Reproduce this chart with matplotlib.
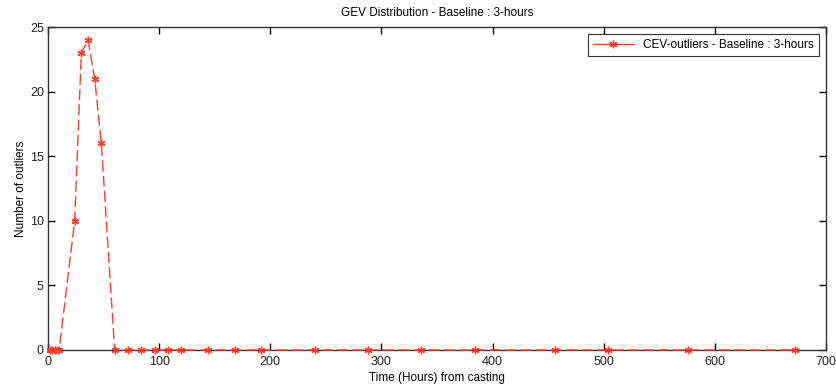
import matplotlib
matplotlib.use("Agg")
import matplotlib.pyplot as plt

# hours from casting and number of outliers
hours = [2, 4, 6, 8, 10, 24, 30, 36, 42, 48, 60, 72, 84, 96, 108, 120,
         144, 168, 192, 240, 288, 336, 384, 456, 504, 576, 672]
outliers = [0, 0, 0, 0, 0, 10, 23, 24, 21, 16, 0, 0, 0, 0, 0, 0,
            0, 0, 0, 0, 0, 0, 0, 0, 0, 0, 0]

x_ticks = [0, 100, 200, 300, 400, 500, 600, 700]
y_ticks = [0, 5, 10, 15, 20, 25]

plt.rcParams['font.family'] = ['Liberation Sans', 'DejaVu Sans']

fig = plt.figure(figsize=(8.36, 3.86), dpi=100)
ax = fig.add_axes([0.0574, 0.0933, 0.9306, 0.8367])

red = '#ff3a2a'
ax.plot(hours, outliers, color=red, linestyle=(0, (8, 3)), linewidth=1.0,
        marker=(6, 2, 0), markersize=5.5, markeredgewidth=1.0,
        markeredgecolor=red, clip_on=False, zorder=3,
        label='CEV-outliers - Baseline : 3-hours')

ax.set_xlim(0, 700)
ax.set_ylim(0, 25)
ax.set_xticks(x_ticks)
ax.set_yticks(y_ticks)
ax.tick_params(direction='in', top=True, right=True, length=5, width=1,
               labelsize=9, labelcolor='#222222')
ax.tick_params(axis='x', pad=4)
ax.tick_params(axis='y', pad=3)
for s in ax.spines.values():
    s.set_color('#333333')
    s.set_linewidth(1.0)

ax.set_title('GEV Distribution - Baseline : 3-hours', fontsize=8.5, pad=8)
ax.set_xlabel('Time (Hours) from casting', fontsize=8.5, labelpad=3)
ax.set_ylabel('Number of outliers', fontsize=8.5, labelpad=2)

leg = ax.legend(loc='upper right', fontsize=8.5, fancybox=False,
                framealpha=1, edgecolor='#333333', handlelength=3.5,
                borderaxespad=0.6)
leg.get_frame().set_linewidth(0.8)
for h in leg.get_lines():
    h.set_linestyle('-')

fig.savefig('out.png', dpi=100)
